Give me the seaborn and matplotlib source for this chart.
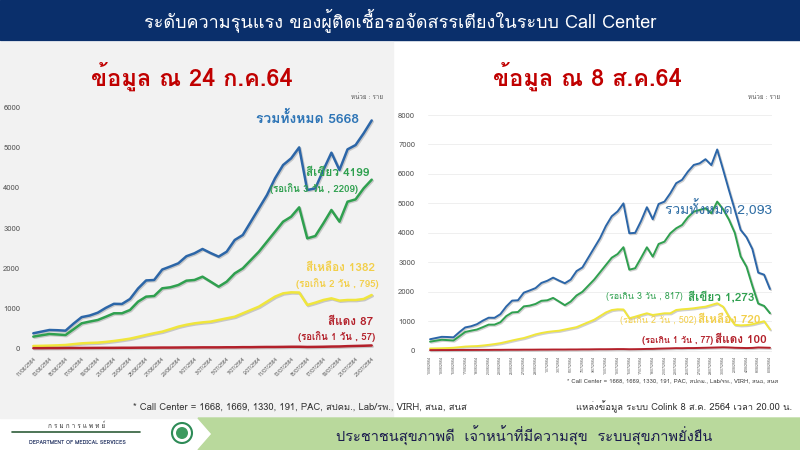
import pandas as pd
import seaborn as sns
import matplotlib.patheffects as pe
from matplotlib import pyplot as plt
from matplotlib import font_manager as fm
from matplotlib.ft2font import FT2Font
from matplotlib.patches import Rectangle, Polygon, Ellipse


# data (11/06/2564 onwards, one value per day)
total_jul = [389, 430, 471, 465, 454, 630, 790, 830, 900, 1020,
             1120, 1116, 1240, 1500, 1700, 1711, 1970, 2045, 2125, 2300,
             2373, 2480, 2380, 2290, 2413, 2703, 2827, 3157, 3488, 3818,
             4232, 4562, 4728, 5000, 3942, 3984, 4438, 4868, 4438, 4951,
             5058, 5348, 5668]
green_jul = [306, 340, 372, 360, 347, 490, 637, 680, 719, 800,
             885, 885, 967, 1174, 1298, 1314, 1505, 1530, 1587, 1694,
             1711, 1793, 1670, 1545, 1669, 1876, 2000, 2207, 2413, 2661,
             2909, 3157, 3281, 3513, 2744, 2802, 3116, 3447, 3157, 3653,
             3711, 3984, 4199]
yellow_jul = [74, 78, 83, 90, 99, 120, 140, 150, 157, 175,
              198, 225, 256, 300, 347, 390, 430, 490, 554, 600,
              636, 660, 678, 719, 760, 800, 884, 967, 1050, 1174,
              1298, 1380, 1405, 1400, 1091, 1149, 1215, 1256, 1199, 1215,
              1215, 1240, 1339]
red_jul = [20, 20, 22, 22, 24, 25, 25, 26, 27, 28,
           28, 30, 30, 32, 33, 33, 35, 35, 36, 38,
           38, 40, 40, 40, 42, 42, 45, 45, 48, 50,
           50, 52, 55, 55, 50, 52, 55, 60, 62, 70,
           75, 80, 87]

total_aug = [389, 430, 471, 465, 454, 630, 790, 830, 900, 1020,
             1120, 1116, 1240, 1500, 1700, 1711, 1970, 2045, 2125, 2300,
             2373, 2480, 2380, 2290, 2413, 2703, 2827, 3157, 3488, 3818,
             4232, 4562, 4728, 5000, 3986, 4000, 4400, 4870, 4460, 4980,
             5060, 5345, 5685, 5800, 6080, 6305, 6360, 6500, 6300, 6830,
             6150, 5450, 4780, 4100, 3850, 3450, 2650, 2580, 2093]
green_aug = [306, 340, 372, 360, 347, 490, 637, 680, 719, 800,
             885, 885, 967, 1174, 1298, 1314, 1505, 1530, 1587, 1694,
             1711, 1793, 1670, 1545, 1669, 1876, 2000, 2207, 2413, 2661,
             2909, 3157, 3281, 3513, 2750, 2800, 3150, 3510, 3192, 3623,
             3701, 3986, 4156, 4268, 4530, 4720, 4778, 4835, 4665, 5060,
             4800, 4450, 4000, 3200, 2850, 2200, 1600, 1520, 1273]
yellow_aug = [74, 78, 83, 90, 99, 120, 140, 150, 157, 175,
              198, 225, 256, 300, 347, 390, 430, 490, 554, 600,
              636, 660, 678, 719, 760, 800, 884, 967, 1050, 1174,
              1298, 1380, 1405, 1400, 1100, 1155, 1215, 1270, 1212, 1240,
              1270, 1270, 1382, 1405, 1420, 1440, 1470, 1495, 1552, 1610,
              1495, 1150, 880, 860, 870, 900, 950, 1000, 720]
red_aug = [20, 20, 22, 22, 24, 25, 25, 26, 27, 28,
           28, 30, 30, 32, 33, 33, 35, 35, 36, 38,
           38, 40, 40, 40, 42, 42, 45, 45, 48, 50,
           50, 52, 55, 55, 50, 52, 55, 60, 62, 70,
           75, 80, 87, 85, 90, 90, 95, 100, 105, 110,
           115, 110, 100, 95, 90, 95, 110, 105, 100]

START_DATE = '2021-06-11'

BLUE = '#2c66a8'
GREEN = '#2fa04f'
YELLOW = '#f0e63c'
YELLOW_TXT = '#f2cf4a'
RED = '#b3202a'
DARK_RED = '#c00000'


def thai_font():
    "return the first installed family that has Thai glyphs"
    for f in fm.fontManager.ttflist:
        try:
            if 0x0E01 in FT2Font(f.fname).get_charmap():
                return f.name
        except Exception:
            pass
    return None


def px(x, y):
    "pixel (from top left) to figure fraction"
    return x / 800, 1 - y / 450


def date_labels(n):
    days = pd.date_range(START_DATE, periods=n, freq='D')
    return [f'{d.day}/{d.month:02d}/{d.year + 543}' for d in days]


def draw_lines(ax, series, lw):
    shadow = [pe.SimpleLineShadow(offset=(0.8, -0.8), shadow_color='#777777', alpha=0.35), pe.Normal()]
    for values, color in series:
        df = pd.DataFrame({'day': range(len(values)), 'cases': values})
        sns.lineplot(x='day', y='cases', data=df, color=color, lw=lw, ax=ax,
                     path_effects=shadow)
    ax.set_xlabel('')
    ax.set_ylabel('')
    sns.despine(ax=ax, left=True, bottom=True)
    ax.tick_params(length=0, colors='#595959')


def main():

    sns.set_theme(style='white')
    fam = thai_font()
    plt.rcParams['font.family'] = [fam, 'DejaVu Sans'] if fam else ['DejaVu Sans']

    fig = plt.figure(figsize=(8, 4.5), dpi=100)
    fig.patch.set_facecolor('white')

    # backgrounds (kept under the axes)
    fig.patches.append(Rectangle(px(0, 40), 1, 40 / 450, transform=fig.transFigure,
                                 color='#0a2f6b', zorder=-5))
    fig.patches.append(Rectangle(px(0, 418), 393 / 800, 376 / 450, transform=fig.transFigure,
                                 color='#f2f2f2', zorder=-5))
    fig.patches.append(Polygon([px(198, 418), px(800, 418), px(800, 450), px(198, 450), px(212, 434)],
                               closed=True, transform=fig.transFigure, color='#b9d99c', zorder=-5))

    fig.text(*px(400, 20), 'ระดับความรุนแรง ของผู้ติดเชื้อรอจัดสรรเตียงในระบบ Call Center',
             color='white', fontsize=13, ha='center', va='center')
    fig.text(*px(192, 76), 'ข้อมูล ณ 24 ก.ค.64', color=DARK_RED, fontsize=17,
             fontweight='bold', ha='center', va='center')
    fig.text(*px(587, 76), 'ข้อมูล ณ 8 ส.ค.64', color=DARK_RED, fontsize=17,
             fontweight='bold', ha='center', va='center')
    fig.text(*px(383, 97), 'หน่วย : ราย', color='#595959', fontsize=4.5, ha='right', va='center')
    fig.text(*px(780, 97), 'หน่วย : ราย', color='#595959', fontsize=4.5, ha='right', va='center')

    ##################
    ## LEFT (JULY)  ##
    ##################

    ax_jul = fig.add_axes([30 / 800, 98 / 450, 345 / 800, 252 / 450])
    ax_jul.set_facecolor('none')
    draw_lines(ax_jul, [(total_jul, BLUE), (green_jul, GREEN), (yellow_jul, YELLOW), (red_jul, RED)], 1.8)
    ax_jul.set_xlim(-0.41, 42.41)
    ax_jul.set_ylim(-75, 6175)
    ax_jul.set_yticks(range(0, 6001, 1000))
    labels = date_labels(len(total_jul))
    ax_jul.set_xticks(range(0, len(labels), 2))
    ax_jul.set_xticklabels(labels[::2], rotation=45, ha='right', rotation_mode='anchor', fontsize=3.6)
    ax_jul.tick_params(axis='y', labelsize=5.5, pad=7)
    ax_jul.tick_params(axis='x', pad=3)

    ax_jul.text(0.805, 0.928, 'รวมทั้งหมด 5668', transform=ax_jul.transAxes, color='#2e75b6',
                fontsize=10, fontweight='bold', ha='center', va='center')
    ax_jul.text(0.985, 0.71, 'สีเขียว 4199', transform=ax_jul.transAxes, color=GREEN,
                fontsize=8.5, fontweight='bold', ha='right', va='center')
    ax_jul.text(0.95, 0.65, '(รอเกิน 3 วัน , 2209)', transform=ax_jul.transAxes, color=GREEN,
                fontsize=7, fontweight='bold', ha='right', va='center')
    ax_jul.text(1.0, 0.333, 'สีเหลือง 1382', transform=ax_jul.transAxes, color=YELLOW_TXT,
                fontsize=8.5, fontweight='bold', ha='right', va='center')
    ax_jul.text(1.01, 0.27, '(รอเกิน 2 วัน , 795)', transform=ax_jul.transAxes, color=YELLOW_TXT,
                fontsize=7, fontweight='bold', ha='right', va='center')
    ax_jul.text(0.995, 0.119, 'สีแดง 87', transform=ax_jul.transAxes, color=RED,
                fontsize=8.5, fontweight='bold', ha='right', va='center')
    ax_jul.text(1.0, 0.063, '(รอเกิน 1 วัน , 57)', transform=ax_jul.transAxes, color=RED,
                fontsize=7, fontweight='bold', ha='right', va='center')

    ####################
    ## RIGHT (AUGUST) ##
    ####################

    ax_aug = fig.add_axes([427.7 / 800, 97 / 450, 344.6 / 800, 243 / 450])
    draw_lines(ax_aug, [(total_aug, BLUE), (green_aug, GREEN), (yellow_aug, YELLOW), (red_aug, RED)], 1.4)
    ax_aug.set_xlim(-0.4, 58.4)
    ax_aug.set_ylim(-78, 8170)
    ax_aug.set_yticks(range(0, 8001, 1000))
    ax_aug.yaxis.grid(True, color='#ececec', lw=0.6)
    ax_aug.set_axisbelow(True)
    labels = date_labels(len(total_aug))
    ax_aug.set_xticks(range(0, len(labels), 2))
    ax_aug.set_xticklabels(labels[::2], rotation=90, fontsize=2.6)
    ax_aug.tick_params(axis='y', labelsize=5.5, pad=9)
    ax_aug.tick_params(axis='x', pad=2)

    ax_aug.text(1.0, 0.597, 'รวมทั้งหมด 2,093', transform=ax_aug.transAxes, color='#2e6da4',
                fontsize=10, ha='right', va='center')
    ax_aug.text(0.74, 0.232, '(รอเกิน 3 วัน , 817)', transform=ax_aug.transAxes, color=GREEN,
                fontsize=6.5, ha='right', va='center')
    ax_aug.text(0.755, 0.232, 'สีเขียว 1,273', transform=ax_aug.transAxes, color=GREEN,
                fontsize=8.5, fontweight='bold', ha='left', va='center')
    ax_aug.text(0.78, 0.133, '(รอเกิน 2 วัน , 502)', transform=ax_aug.transAxes, color=YELLOW_TXT,
                fontsize=6.5, ha='right', va='center')
    ax_aug.text(0.785, 0.138, 'สีเหลือง 720', transform=ax_aug.transAxes, color=YELLOW_TXT,
                fontsize=8.5, fontweight='bold', ha='left', va='center')
    ax_aug.text(0.83, 0.05, '(รอเกิน 1 วัน , 77)', transform=ax_aug.transAxes, color=RED,
                fontsize=6.5, fontweight='bold', ha='right', va='center')
    ax_aug.text(0.835, 0.055, 'สีแดง 100', transform=ax_aug.transAxes, color=RED,
                fontsize=8.5, fontweight='bold', ha='left', va='center')

    fig.text(*px(778, 381), '* Call Center = 1668, 1669, 1330, 191, PAC, สปคม., Lab/รพ., VIRH, สนอ, สนส',
             color='#404040', fontsize=4.3, ha='right', va='center')

    ############
    ## FOOTER ##
    ############

    fig.text(*px(300, 407), '* Call Center = 1668, 1669, 1330, 191, PAC, สปคม., Lab/รพ., VIRH, สนอ, สนส',
             color='#333333', fontsize=6.8, ha='center', va='center')
    fig.text(*px(792, 407), 'แหล่งข้อมูล ระบบ Colink 8 ส.ค. 2564 เวลา 20.00 น.',
             color='#333333', fontsize=6.8, ha='right', va='center')
    fig.text(*px(524, 436), 'ประชาชนสุขภาพดี  เจ้าหน้าที่มีความสุข  ระบบสุขภาพยั่งยืน',
             color='#1b1b4d', fontsize=10.5, ha='center', va='center')

    fig.text(*px(77, 425), 'ก ร ม ก า ร แ พ ท ย์', color='#333333', fontsize=4.5, ha='center', va='center')
    fig.add_artist(plt.Line2D([12 / 800, 140 / 800], [1 - 432 / 450, 1 - 432 / 450],
                              transform=fig.transFigure, color='#2f5d3a', lw=1.2))
    fig.text(*px(77, 442), 'DEPARTMENT OF MEDICAL SERVICES', color='#1f2f5f', fontsize=3.8,
             fontweight='bold', ha='center', va='center')
    fig.patches.append(Ellipse(px(182, 433), 20 / 800, 20 / 450, transform=fig.transFigure,
                               facecolor='white', edgecolor='#2e8b57', lw=1.5, zorder=2))
    fig.patches.append(Ellipse(px(182, 433), 12 / 800, 12 / 450, transform=fig.transFigure,
                               facecolor='#3c9a5f', edgecolor='none', zorder=3))

    plt.savefig('out.png', dpi=100)

    return


if __name__ == '__main__':
    main()
